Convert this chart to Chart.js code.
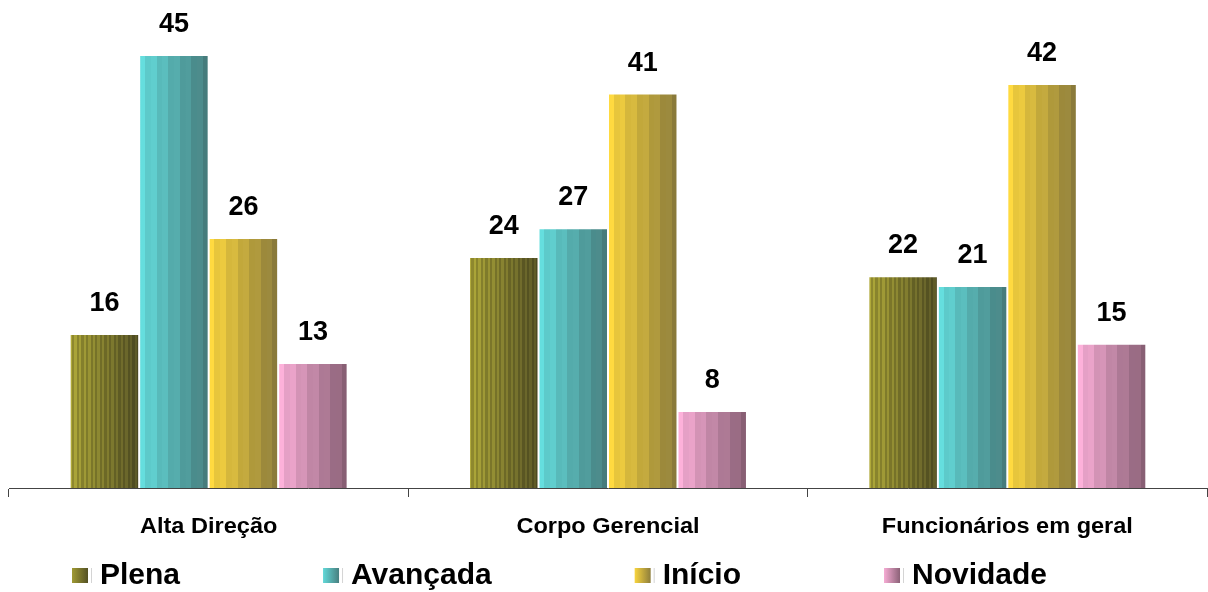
<!DOCTYPE html>
<html lang="pt">
<head>
<meta charset="utf-8">
<title>Maturidade por nível</title>
<script src="https://cdn.jsdelivr.net/npm/chart.js@4/dist/chart.umd.min.js"></script>
<style>
  html, body { margin: 0; padding: 0; background: #ffffff; }
  #wrap { position: relative; width: 1208px; height: 592px; }
</style>
</head>
<body>
<div id="wrap"><canvas id="chart"></canvas></div>
<script>
// Categories and series values
const categories = ['Alta Direção', 'Corpo Gerencial', 'Funcionários em geral'];
const seriesNames = ['Plena', 'Avançada', 'Início', 'Novidade'];
const plena = [16, 24, 22];
const avancada = [45, 27, 21];
const inicio = [26, 41, 42];
const novidade = [13, 8, 15];

// Light (left) and dark (right) ends of each series' banded fill
const shades = [
  { light: [160, 154, 52], dark: [84, 81, 36], bands: 30, ripple: 0.10 },
  { light: [98, 216, 216], dark: [72, 128, 128], bands: 12, ripple: 0.03 },
  { light: [248, 212, 62], dark: [142, 126, 60], bands: 12, ripple: 0.03 },
  { light: [246, 172, 212], dark: [140, 98, 120], bands: 12, ripple: 0.03 }
];

const FONT = "'Liberation Sans', Arial, Helvetica, sans-serif";

function mix(a, b, t) {
  return a.map((v, i) => v + (b[i] - v) * t);
}
function rgb(c, k) {
  const f = v => Math.max(0, Math.min(255, Math.round(v * k)));
  return 'rgb(' + f(c[0]) + ',' + f(c[1]) + ',' + f(c[2]) + ')';
}
function bandedGradient(ctx, x0, x1, s) {
  const g = ctx.createLinearGradient(x0, 0, x1, 0);
  for (let k = 0; k < s.bands; k++) {
    const t = k / (s.bands - 1);
    const k2 = 1 + (k % 2 === 0 ? s.ripple : -s.ripple);
    const col = rgb(mix(s.light, s.dark, t), k2);
    g.addColorStop(k / s.bands, col);
    g.addColorStop(Math.min(1, (k + 1) / s.bands - 0.0001), col);
  }
  return g;
}

// Fills each bar with a banded horizontal gradient across its own width
const bandFill = {
  id: 'bandFill',
  beforeDatasetsDraw(chart) {
    const ctx = chart.ctx;
    chart.data.datasets.forEach((ds, di) => {
      const meta = chart.getDatasetMeta(di);
      meta.data.forEach(el => {
        const x0 = el.x - el.width / 2;
        const x1 = el.x + el.width / 2;
        el.options = Object.assign({}, el.options, {
          backgroundColor: bandedGradient(ctx, x0, x1, shades[di])
        });
      });
    });
  }
};

// Value labels above each bar
const valueLabels = {
  id: 'valueLabels',
  afterDatasetsDraw(chart) {
    const ctx = chart.ctx;
    ctx.save();
    ctx.font = 'bold 27px ' + FONT;
    ctx.fillStyle = '#000000';
    ctx.textAlign = 'center';
    ctx.textBaseline = 'alphabetic';
    chart.data.datasets.forEach((ds, di) => {
      const meta = chart.getDatasetMeta(di);
      meta.data.forEach((el, i) => {
        ctx.fillText(String(ds.data[i]), el.x, el.y - 23);
      });
    });
    ctx.restore();
  }
};

// Category names under the axis and the legend row
const captions = {
  id: 'captions',
  afterDraw(chart) {
    const ctx = chart.ctx;
    const xs = chart.scales.x;
    const stretch = 1.07;

    ctx.save();
    ctx.fillStyle = '#000000';
    ctx.textBaseline = 'alphabetic';
    ctx.font = 'bold 22px ' + FONT;
    ctx.textAlign = 'center';
    categories.forEach((label, i) => {
      const cx = xs.getPixelForValue(i);
      ctx.save();
      ctx.translate(cx, 533);
      ctx.scale(stretch, 1);
      ctx.fillText(label, 0, 0);
      ctx.restore();
    });

    // Legend
    ctx.font = 'bold 30px ' + FONT;
    ctx.textAlign = 'left';
    const boxW = 16, boxH = 15, baseline = 584, gapText = 12, gapItem = 143;
    let x = 72;
    chart.data.datasets.forEach((ds, di) => {
      const s = shades[di];
      const g = ctx.createLinearGradient(x, 0, x + boxW, 0);
      g.addColorStop(0, rgb(s.light, 1));
      g.addColorStop(1, rgb(s.dark, 1));
      ctx.fillStyle = g;
      ctx.fillRect(x, baseline - boxH - 1, boxW, boxH);
      ctx.fillStyle = '#d4d4d4';
      ctx.fillRect(x + boxW + 3, baseline - boxH - 1, 1, boxH);
      ctx.fillStyle = '#000000';
      const tx = x + boxW + gapText;
      const w = ctx.measureText(ds.label).width;
      ctx.fillText(ds.label, tx, baseline);
      x = tx + w + gapItem;
    });
    ctx.restore();
  }
};

const seriesValues = [plena, avancada, inicio, novidade];

new Chart(document.getElementById('chart'), {
  type: 'bar',
  data: {
    labels: categories,
    datasets: seriesNames.map((name, i) => ({
      label: name,
      data: seriesValues[i],
      backgroundColor: rgb(shades[i].light, 1),
      borderColor: 'rgba(255,255,255,0.95)',
      borderWidth: 1,
      borderSkipped: 'start'
    }))
  },
  options: {
    responsive: true,
    maintainAspectRatio: false,
    animation: false,
    layout: { padding: { left: 9, right: 1, top: 7, bottom: 95 } },
    datasets: {
      bar: { categoryPercentage: 0.696, barPercentage: 1.0 }
    },
    scales: {
      x: {
        offset: true,
        grid: {
          display: true,
          offset: true,
          drawOnChartArea: false,
          drawTicks: true,
          tickLength: 9,
          color: '#444444',
          lineWidth: 1
        },
        border: { display: true, color: '#444444', width: 1 },
        ticks: { display: false }
      },
      y: {
        display: false,
        min: 0,
        max: 50
      }
    },
    plugins: {
      legend: { display: false },
      tooltip: { enabled: false }
    }
  },
  plugins: [bandFill, valueLabels, captions]
});
</script>
</body>
</html>
